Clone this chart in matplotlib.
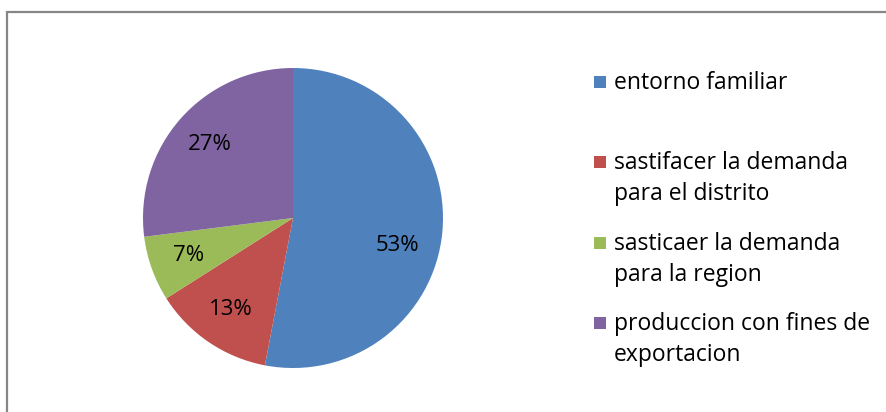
import matplotlib
matplotlib.use("Agg")
import matplotlib.pyplot as plt
from matplotlib.patches import Rectangle
import numpy as np

categorias = ["entorno familiar",
              "sastifacer la demanda\npara el distrito",
              "sasticaer la demanda\npara la region",
              "produccion con fines de\nexportacion"]
porcentajes = [53, 13, 7, 27]
colores = ["#4F81BD", "#C0504D", "#9BBB59", "#8064A2"]

W, H = 886, 412
plt.rcParams["font.family"] = ["Open Sans", "DejaVu Sans"]


def px(x, y):
    # pixel coords (top-left origin) -> figure fraction
    return x / W, 1 - y / H


fig = plt.figure(figsize=(W / 100, H / 100), dpi=100)
fig.patch.set_facecolor("white")

# chart frame (right and bottom edges run off the image)
fig.patches.append(Rectangle(px(7, 430), (W + 20) / W, 418 / H,
                             transform=fig.transFigure, fill=False,
                             edgecolor="#868686", linewidth=1.6))

ax = fig.add_axes([143 / W, 44 / H, 300 / W, 300 / H])
wedges, texts, autotexts = ax.pie(
    porcentajes, colors=colores, startangle=90, counterclock=False,
    autopct=lambda p: f"{p:.0f}%", pctdistance=0.74, radius=1,
    wedgeprops=dict(linewidth=0),
    textprops=dict(fontsize=16, color="black"))
ax.set_xlim(-1, 1)
ax.set_ylim(-1, 1)
ax.set_aspect("equal")
ax.axis("off")

# the big slice's label sits a little lower than its mid-angle
ang = np.deg2rad(-15)
autotexts[0].set_position((0.72 * np.cos(ang), 0.72 * np.sin(ang)))

# legend drawn by hand so markers line up with the first text line
filas = [82, 162, 243, 323]
for y, lab, c in zip(filas, categorias, colores):
    fig.patches.append(Rectangle(px(594, y + 6), 12 / W, 12 / H,
                                 transform=fig.transFigure,
                                 facecolor=c, edgecolor="none"))
    fig.text(*px(614, y - 11), lab, fontsize=16.5, va="top", ha="left",
             color="black", linespacing=1.38)

fig.savefig("out.png", dpi=100)
